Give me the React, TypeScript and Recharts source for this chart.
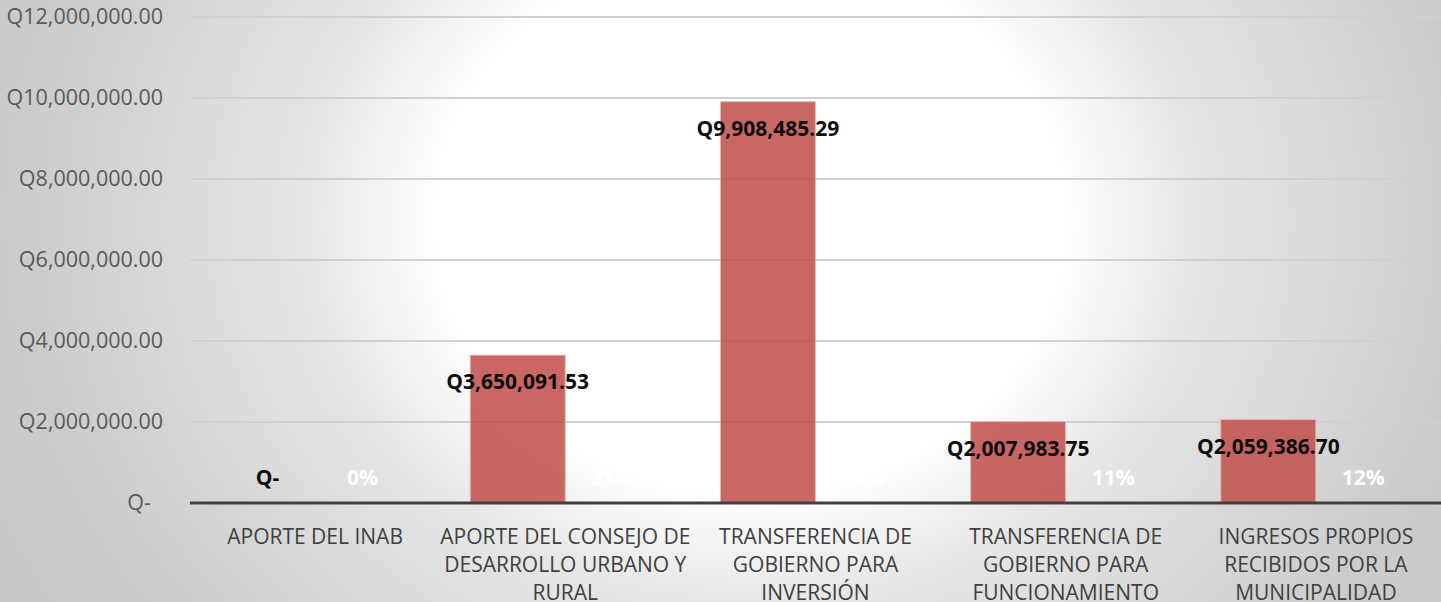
import { BarChart, Bar, XAxis, YAxis, CartesianGrid, LabelList } from 'recharts';

const categories = [
  'APORTE DEL INAB',
  'APORTE DEL CONSEJO DE DESARROLLO URBANO Y RURAL',
  'TRANSFERENCIA DE GOBIERNO PARA INVERSIÓN',
  'TRANSFERENCIA DE GOBIERNO PARA FUNCIONAMIENTO',
  'INGRESOS PROPIOS RECIBIDOS POR LA MUNICIPALIDAD',
];
const montos = [0, 3650091.53, 9908485.29, 2007983.75, 2059386.7];
const porcentajes = [0, 0.21, 0.56, 0.11, 0.12];
const yTicks = [0, 2000000, 4000000, 6000000, 8000000, 10000000, 12000000];

const data = categories.map((name, i) => ({
  name,
  monto: montos[i],
  pct: porcentajes[i],
}));

const FONT = '"Open Sans", sans-serif';

const fmtQ = (v: number) =>
  v === 0
    ? 'Q-'
    : 'Q' + v.toLocaleString('en-US', { minimumFractionDigits: 2, maximumFractionDigits: 2 });

// greedy wrap like Excel does for the category labels
function wrap(text: string, max: number) {
  const lines: string[] = [];
  let cur = '';
  for (const w of text.split(' ')) {
    const next = cur ? cur + ' ' + w : w;
    if (next.length > max && cur) {
      lines.push(cur);
      cur = w;
    } else cur = next;
  }
  if (cur) lines.push(cur);
  return lines;
}

const CatTick = (props: any) => {
  const { x, y, payload } = props;
  const lines = wrap(payload.value, 21);
  return (
    <text x={x} y={y + 33} textAnchor="middle" fill="#404040" fontSize={21} fontFamily={FONT}>
      {lines.map((l, i) => (
        <tspan key={i} x={x} dy={i === 0 ? 0 : 28}>
          {l}
        </tspan>
      ))}
    </text>
  );
};

const ValTick = (props: any) => {
  const { x, y, payload } = props;
  return (
    <text x={payload.value === 0 ? x - 12 : x} y={y} dy={7} textAnchor="end" fill="#595959" fontSize={21.5} fontFamily={FONT}>
      {fmtQ(payload.value)}
    </text>
  );
};

const MontoLabel = (props: any) => {
  const { x, y, width, height, value } = props;
  const bottom = y + height;
  const cy = Math.min(y + 27, bottom - 25);
  return (
    <text x={x + width / 2} y={cy} dy={7} textAnchor="middle" fill="#0d0d0d" fontSize={21} fontWeight="bold" fontFamily={FONT}>
      {fmtQ(value)}
    </text>
  );
};

const PctLabel = (props: any) => {
  const { x, y, width, height, value } = props;
  return (
    <text x={x + width / 2} y={y + height - 25} dy={7} textAnchor="middle" fill="#ffffff" fontSize={21} fontWeight="bold" fontFamily={FONT}>
      {Math.round(value * 100) + '%'}
    </text>
  );
};

export default function App() {
  return (
    <div
      style={{
        position: 'absolute',
        left: 0,
        top: 0,
        width: 1441,
        height: 602,
        background:
          'radial-gradient(ellipse 726px 630px at 750px 220px, #ffffff 0%, #ffffff 43%, #e6e6e6 61%, #d8d8d8 81%, #cccccc 100%, #c6c6c6 130%)',
      }}
    >
      <BarChart
        width={1441}
        height={602}
        data={data}
        margin={{ top: 17, right: 0, bottom: 0, left: 0 }}
        barGap={0}
        barCategoryGap="12%"
      >
        <CartesianGrid vertical={false} stroke="#d0d0d0" strokeWidth={2} />
        <XAxis
          dataKey="name"
          interval={0}
          tick={<CatTick />}
          tickLine={false}
          axisLine={{ stroke: '#404040', strokeWidth: 3 }}
          height={99}
        />
        <YAxis
          width={190}
          domain={[0, 12000000]}
          ticks={yTicks}
          tick={<ValTick />}
          tickLine={false}
          axisLine={false}
          tickSize={0}
          tickMargin={27}
        />
        <Bar dataKey="monto" fill="#c0504d" fillOpacity={0.87} stroke="#e8b5b3" strokeWidth={1} minPointSize={1} isAnimationActive={false}>
          <LabelList dataKey="monto" content={<MontoLabel />} />
        </Bar>
        <Bar dataKey="pct" fill="#c0504d" minPointSize={1} isAnimationActive={false}>
          <LabelList dataKey="pct" content={<PctLabel />} />
        </Bar>
      </BarChart>
    </div>
  );
}
